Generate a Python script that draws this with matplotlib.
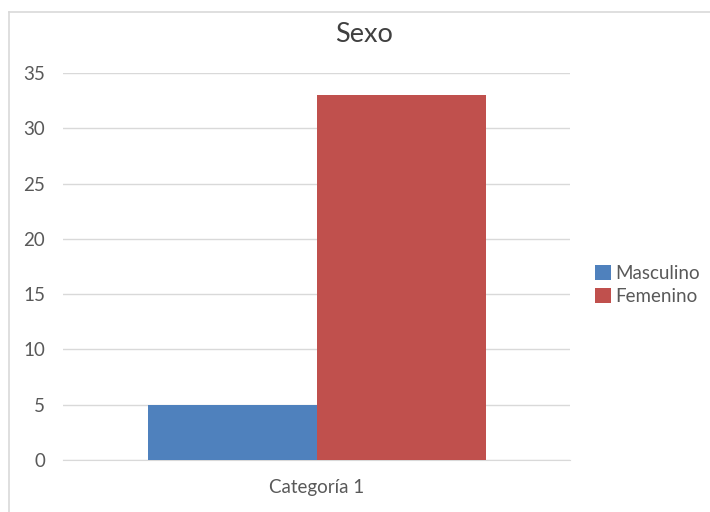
import matplotlib
matplotlib.use("Agg")
import matplotlib.pyplot as plt
from matplotlib.lines import Line2D

plt.rcParams['font.family'] = ['Lato', 'DejaVu Sans']

categoria = 'Categoría 1'
series = ['Masculino', 'Femenino']
valores = [5, 33]
colores = ['#4F81BD', '#C0504D']
yticks = [0, 5, 10, 15, 20, 25, 30, 35]

fig = plt.figure(figsize=(7.1, 5.12), dpi=100)
ax = fig.add_axes([63 / 710, 1 - 460 / 512, 507 / 710, 387 / 512])

# chart border (only top and left edges show)
fig.lines.append(Line2D([9 / 710, 1], [1 - 12 / 512] * 2, transform=fig.transFigure,
                        color='#D9D9D9', linewidth=1.2))
fig.lines.append(Line2D([9 / 710] * 2, [0, 1 - 12 / 512], transform=fig.transFigure,
                        color='#D9D9D9', linewidth=1.2))

pos = [-0.25, 0.25]
for p, v, c, s in zip(pos, valores, colores, series):
    ax.bar(p, v, width=0.5, color=c, label=s, zorder=3)

ax.set_xlim(-0.75, 0.75)
ax.set_ylim(0, 35)
ax.set_yticks(yticks)
ax.set_xticks([0])
ax.set_xticklabels([categoria])
ax.yaxis.grid(True, color='#D9D9D9', linewidth=1, zorder=0)
for sp in ['top', 'right', 'left']:
    ax.spines[sp].set_visible(False)
ax.spines['bottom'].set_color('#D9D9D9')
ax.tick_params(axis='both', length=0, colors='#595959', labelsize=13.5)
ax.tick_params(axis='y', pad=13)
ax.tick_params(axis='x', pad=14)

fig.text(364 / 710, 1 - 34 / 512, 'Sexo', fontsize=19.5, color='#404040',
         ha='center', va='center')

fig.legend(loc='center left', bbox_to_anchor=(578 / 710, 1 - 285 / 512),
           frameon=False, fontsize=13.5, handlelength=0.85, handleheight=0.85,
           handletextpad=0.25, labelspacing=0.35, labelcolor='#595959')

fig.savefig('out.png', dpi=100)
